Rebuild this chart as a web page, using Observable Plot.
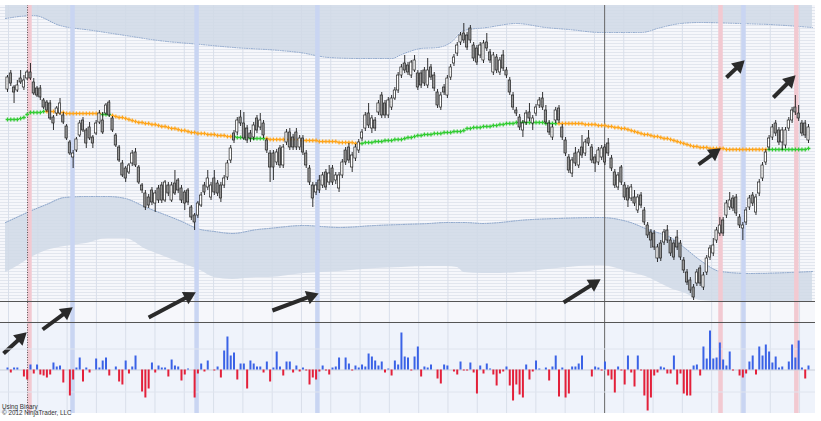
<!DOCTYPE html>
<html><head><meta charset="utf-8">
<script src="https://cdn.jsdelivr.net/npm/d3@7"></script>
<script src="https://cdn.jsdelivr.net/npm/@observablehq/plot@0.6"></script>
<style>
html,body{margin:0;padding:0;background:#fff;}
#wrap{position:relative;width:821px;height:421px;overflow:hidden;font-family:"Liberation Sans",Arial,sans-serif;}
#wrap svg{position:absolute;left:0;}
.note{position:absolute;left:2px;font-size:6.3px;color:#333;line-height:6px;white-space:nowrap;}
</style></head><body><div id="wrap"></div>
<script>
// ---- candle data (bar index 0..244) ----
const opens = [211,227,213,210,222,213,222,228,218,212,212,200,198,197,183,187,187,185,174,158,143,150,165,180,170,173,163,167,178,180,187,198,182,165,153,137,132,128,137,148,
133,115,107,103,110,97,112,115,100,115,100,117,120,112,108,110,93,85,85,95,115,113,103,122,117,115,115,123,140,167,168,183,177,172,167,163,182,173,177,160,147,
147,138,152,135,158,168,163,168,153,162,147,132,115,108,120,115,128,118,132,120,112,125,150,153,133,142,150,162,172,187,172,180,188,205,197,185,193,202,210,225,237,235,
225,230,227,227,230,215,233,225,208,193,213,205,223,237,247,258,267,265,272,255,252,245,240,258,248,228,243,228,245,230,220,205,190,183,170,178,188,177,187,195,202,190,
177,163,180,192,173,160,143,127,147,135,153,147,162,153,143,138,143,153,157,142,128,113,133,115,112,102,103,90,105,90,75,68,67,42,57,58,70,60,57,63,57,
40,28,20,13,17,32,13,28,43,47,60,67,80,85,93,102,103,83,72,78,93,105,88,107,122,138,153,163,177,170,158,155,172,180,193,187,177,177,160];
const closes = [223,217,208,215,218,220,228,222,207,205,203,193,190,182,177,192,197,178,162,147,147,161,177,170,157,162,157,177,187,168,195,185,170,155,140,125,122,135,147,135,
118,110,93,95,98,107,100,100,118,107,115,107,110,100,97,98,83,78,97,105,108,122,115,108,107,102,122,137,152,160,180,177,162,160,162,175,170,180,165,150,133,
133,148,135,153,168,153,153,153,162,148,135,118,102,115,110,125,113,127,118,125,125,138,138,140,145,153,158,168,185,175,182,172,197,185,185,200,202,210,225,233,230,228,
238,240,213,215,217,230,223,212,195,205,208,222,233,243,255,265,260,253,260,242,238,255,257,252,240,245,230,240,232,225,208,193,187,173,177,187,182,182,193,200,193,178,
168,173,190,180,163,147,130,140,137,148,145,158,157,140,137,150,152,138,147,132,115,125,118,103,100,113,97,103,95,78,65,60,53,53,42,68,60,47,43,53,43,
30,18,10,3,28,17,25,42,52,55,70,75,67,97,100,92,87,75,75,90,102,97,103,118,135,148,162,173,167,158,170,170,180,190,188,182,167,165,173];
const highs = [225,230,215,220,230,225,230,237,222,214,215,202,200,200,185,194,202,188,176,160,150,163,180,183,172,178,165,180,190,188,197,200,184,167,155,140,134,137,150,152,
135,117,110,106,113,110,115,118,120,118,118,130,122,115,110,112,95,87,99,108,118,130,118,130,120,118,125,140,155,170,183,190,188,175,170,178,185,187,180,162,150,
150,151,155,156,171,172,166,172,165,165,150,135,118,118,125,128,131,135,135,128,128,141,153,157,148,156,161,171,188,197,185,183,200,208,200,203,205,213,228,236,245,238,
240,245,230,230,233,242,236,228,211,208,216,225,236,246,258,268,277,268,275,258,255,258,260,267,251,248,246,243,250,233,223,208,193,186,180,190,197,185,196,203,208,195,
180,176,193,195,176,163,146,143,153,151,165,161,170,156,146,153,155,156,162,145,131,128,135,118,115,116,110,106,108,93,78,71,70,56,60,71,75,63,60,70,60,
43,31,23,16,31,35,28,45,55,62,73,83,83,100,108,105,106,86,78,93,105,108,106,121,138,151,165,176,180,173,173,173,183,193,205,195,180,180,176];
const lows = [208,214,197,208,216,210,220,220,205,203,200,191,188,180,170,184,185,176,160,145,132,148,163,168,152,160,152,165,176,166,185,183,168,153,138,123,118,126,134,133,
116,107,90,92,95,88,97,97,98,104,98,105,107,97,90,95,80,70,82,93,105,110,100,105,104,98,112,120,137,157,165,174,160,157,158,160,167,170,162,147,118,
120,135,132,132,155,150,150,150,150,145,132,115,93,105,107,112,110,115,115,116,108,122,135,137,128,139,147,159,169,172,167,169,185,182,182,182,190,200,207,222,227,225,
222,228,210,212,214,212,220,209,192,190,205,202,220,234,244,255,257,250,257,239,235,242,237,249,237,225,227,225,229,222,205,190,184,170,163,175,179,170,184,192,190,176,
165,160,177,177,160,144,127,123,134,132,142,144,154,137,128,135,140,135,144,129,112,110,115,100,93,99,94,87,92,75,62,52,50,38,39,55,57,44,40,50,40,
27,15,7,0,14,14,10,25,40,44,57,64,64,82,90,89,84,72,60,75,90,94,85,104,119,135,150,160,164,155,150,152,169,177,185,179,164,162,157];

// ---- moving average ----
const maValues = [181,181,181,181,182,183,186,188,188,188, 188,189,189,189,189,188,188,188,187,187,
187,187,187,187,187,187,187,187,187,186, 186,186,185,184,183,183,182,181,180,179,
178,178,177,177,176,176,175,174,174,173, 172,172,171,170,170,169,168,168,167,167,
167,166,166,166,165,165,165,164,164,164, 163,163,163,163,162,162,162,162,162,162,
161,161,161,161,161,161,161,161,161,160, 160,160,160,160,160,159,159,159,159,159,
159,158,158,158,158,158,157,157,157,158, 158,158,159,159,159,160,160,160,161,161,
161,162,163,163,164,165,165,166,166,166, 167,167,167,168,168,168,169,169,169,170,
172,172,173,173,173,174,174,174,175,175, 176,176,177,177,177,178,178,178,178,178,
178,178,178,178,177,177,177,177,177,177, 177,177,177,177,177,177,176,176,176,176,
175,175,175,174,174,173,173,172,172,171, 170,169,168,167,166,166,165,164,164,163,
162,162,161,160,159,158,157,156,155,154, 154,153,153,153,152,152,152,152,152,151,
151,151,151,151,151,151,151,151,151,151, 151,151,151,151,151,151,151,151,151,151,
151,151,151,151,152];
const maRisingSpans = [[0,11],[29,31],[69,78],[108,167],[232,244]];

// ---- lower-panel histogram ----
const histValues = [2,-3,2,2,0,-7,-10,5,-4,5, -5,-6,-8,-5,7,3,4,-13,0,-26,
-10,2,12,-12,2,-3,0,11,2,9, 12,-6,0,3,-12,-15,9,-4,3,14,
0,-22,-28,-19,7,-3,4,2,2,-7, 10,4,3,-11,-5,1,0,-28,-4,6,
-2,9,0,-1,3,-8,19,33,14,17, -10,6,6,-19,9,6,3,3,-3,8,
-12,2,18,3,-6,8,8,-3,4,-2, 2,-1,-15,-8,-10,-2,4,-1,-5,2,
3,12,0,12,6,-1,4,2,5,3, 16,13,9,4,8,-3,1,-6,9,5,
37,13,12,-1,13,23,-7,3,2,5, 0,-9,-14,5,4,0,-2,-5,8,-1,
-1,7,-3,-24,4,-4,6,1,-5,-16, -4,-2,3,-16,-31,-15,-25,-28,5,-10,
-2,9,1,0,2,-11,3,14,-27,2, -28,-24,3,3,6,14,0,0,-7,3,
2,-1,8,-6,-10,-23,3,-1,-15,14, -3,-17,14,-1,-26,-41,-28,-6,-3,3,
2,-4,-4,14,-15,-4,-24,-26,-26,4, 5,-6,23,11,39,11,12,27,10,4,
18,-1,0,-6,-8,-4,8,14,-5,23, 14,25,18,7,13,2,3,0,8,25,
12,29,2,-9,4];
const histGrid = [21, -22];

// ---- envelope bands ----
const upperBandIdx = [-0.6,8,16,26,36,46,59,69,83,89,98,108,117,120,126,131,135,139,146,155,164,171,181,193,199,205,211,223,232,245.2];
const upperBandLow = [282,285,275,270,265,260,256,253,250,248,243,242,242,246,252,253,258,270,273,277,273,271,268,268,273,277,278,277,276,273];
const lowerBandIdx = [-0.6,3.4,6.7,11.9,17.4,24,30.5,35.9,42.3,47,52.4,58.8,63,68.5,76.2,79.5,90.5,95.6,101.1,112.1,120,128.5,133.7,137,139.2,144.7,150.2,155.7,167.5,180.6,189.8,195.9,198.9,202,206.5,211.1,217.2,226.3,238.5,245.2];
const lowerBandTop = [78,84,89,96,103,104,104,102,93,87,80,71,69,67,71,72,75,74,73,75,76,77,78,78,78,77,78,80,82,83,78,70,67,63,52,40,29,27,28,29];
const lowerBandBottom = [28,35,42,50,54,57,62,62,51,45,38,30,23,21,23,23,27,28,29,32,33,34,34,33,28,27,27,28,32,35,28,22,17,12,7,0,-1,-1,-1,-1];

// ---- annotations ----
const highlightIdx = [6.7, 19.8, 57.6, 94.4, 217.2, 224.2, 240.3];
const highlightKind = ["pink","blue","blue","blue","pink","blue","pink"];
const dottedMarkerIdx = [6.1];
const solidMarkerIdx = [181.9];
const arrowTail = [[-1.2,-53],[10.7,-29],[43,-17],[80.7,-10],[169.4,-2],[210.5,136],[219,223],[233.3,203]];
const arrowTip  = [[5.8,-32],[19.8,-7],[57.3,8],[94.7,7],[180.6,21],[217.2,152],[224.5,240],[240,225]];
const footerLines = ["Using Binary", "\u00A9 2012 NinjaTrader, LLC"];

// ---- layout ----
const W = 821, H = 421;
const PX = 801 / 244;                // pixels per bar
const XD = [-7 / PX, (W - 7) / PX];  // x domain matching full width
const YD = [-121, 300];              // price domain over full height
const paneLeft = XD[0], paneRight = (815 - 7) / PX;
const priceTop = 295, priceBottom = -1, gapBottom = -22, oscBottom = -113;

const candles = opens.map((o, i) => ({i, o, c: closes[i], h: highs[i], l: lows[i]}));
const isRising = i => maRisingSpans.some(([a, b]) => i >= a && i <= b);
const ma = maValues.map((v, i) => ({i, v, col: isRising(i) ? "#33cc33" : "#ffa51a"}));
const hist = histValues.map((v, i) => ({i, v}));
const upper = upperBandIdx.map((i, k) => ({i, lo: upperBandLow[k]}));
const lower = lowerBandIdx.map((i, k) => ({i, top: lowerBandTop[k], bot: lowerBandBottom[k]}));
const hl = highlightIdx.map((i, k) => ({i, col: highlightKind[k] === "pink" ? "#f2c9d1" : "#c9d5f2"}));

const kx = W / (XD[1] - XD[0]), ky = H / (YD[1] - YD[0]);
const HEAD = 7.8;
const arrows = arrowTail.map((t, k) => {
  const p = arrowTip[k];
  const dx = (p[0] - t[0]) * kx, dy = -(p[1] - t[1]) * ky;
  const len = Math.hypot(dx, dy), ux = dx / len, uy = dy / len;
  return {x1: t[0], y1: t[1], x2: p[0], y2: p[1],
    cx: p[0] - ux * HEAD / kx, cy: p[1] + uy * HEAD / ky,
    rot: Math.atan2(ux, -uy) * 180 / Math.PI};
});

const gridIdx = d3.range(0.3, 246, 8.925);
const denseLines = d3.range(priceBottom, priceTop, 3);

const main = Plot.plot({
  width: W, height: H, margin: 0,
  x: {domain: XD, range: [0, W], axis: null},
  y: {domain: YD, range: [H, 0], axis: null},
  color: {type: "identity"},
  style: {background: "transparent"},
  marks: [
    Plot.rect([{x1: paneLeft, x2: paneRight, y1: gapBottom, y2: priceTop}], {x1: "x1", x2: "x2", y1: "y1", y2: "y2", fill: "#f6f7fb"}),
    Plot.rect([{x1: paneLeft, x2: paneRight, y1: oscBottom, y2: gapBottom}], {x1: "x1", x2: "x2", y1: "y1", y2: "y2", fill: "#eff3fb"}),
    Plot.ruleY(denseLines, {x1: paneLeft, x2: paneRight, stroke: "#e2e6ee", strokeWidth: 1}),
    Plot.ruleX(gridIdx, {y1: oscBottom, y2: priceTop, stroke: "#d9dfea", strokeWidth: 1}),
    Plot.areaY(upper, {x: "i", y1: "lo", y2: priceTop, fill: "#d0d9e6", fillOpacity: 0.85, curve: "monotone-x"}),
    Plot.line(upper, {x: "i", y: "lo", stroke: "#8aa4ca", strokeWidth: 1, strokeDasharray: "1,1.4", curve: "monotone-x"}),
    Plot.areaY(lower, {x: "i", y1: "bot", y2: "top", fill: "#d0d9e6", fillOpacity: 0.85, curve: "monotone-x"}),
    Plot.line(lower, {x: "i", y: "top", stroke: "#8aa4ca", strokeWidth: 1, strokeDasharray: "1,1.4", curve: "monotone-x"}),
    Plot.ruleX(hl, {x: "i", y1: oscBottom, y2: priceTop, stroke: "col", strokeWidth: 4.5}),
    Plot.ruleX(dottedMarkerIdx, {y1: oscBottom, y2: priceTop, stroke: "#333", strokeWidth: 0.8, strokeDasharray: "1,1.5"}),
    Plot.ruleX(solidMarkerIdx, {y1: oscBottom, y2: priceTop, stroke: "#666", strokeWidth: 1}),
    Plot.ruleY([priceBottom, gapBottom], {x1: paneLeft, x2: paneRight, stroke: "#555", strokeWidth: 1.2}),
    Plot.dot(ma, {x: "i", y: "v", symbol: "cross", r: 1.6, fill: "col", stroke: null}),
    Plot.ruleX(candles, {x: "i", y1: "l", y2: "h", stroke: "#1a1a1a", strokeWidth: 0.9}),
    Plot.rect(candles, {x1: d => d.i - 0.34, x2: d => d.i + 0.34, y1: "o", y2: "c",
      fill: d => d.c >= d.o ? "#ffffff" : "#979797", stroke: "#222", strokeWidth: 0.7}),
    Plot.link(arrows, {x1: "x1", y1: "y1", x2: "cx", y2: "cy", stroke: "#2a2a2a", strokeWidth: 4}),
    Plot.dot(arrows, {x: "cx", y: "cy", symbol: "triangle", r: 5.2, fill: "#2a2a2a", stroke: null, rotate: "rot"})
  ]
});

const osc = Plot.plot({
  width: W, height: 91, margin: 0,
  x: {domain: XD, range: [0, W], axis: null},
  y: {domain: [-43.5, 47.5], range: [91, 0], axis: null},
  color: {type: "identity"},
  style: {background: "transparent"},
  marks: [
    Plot.ruleY(histGrid, {x1: paneLeft, x2: paneRight, stroke: "#dfe4ee"}),
    Plot.ruleY([0], {x1: paneLeft, x2: paneRight, stroke: "#c9ced9"}),
    Plot.ruleX(hist.filter(d => d.v !== 0), {x: "i", y1: 0, y2: "v",
      stroke: d => d.v > 0 ? "#3a62e6" : "#e3203a", strokeWidth: 2})
  ]
});

const wrap = document.getElementById("wrap");
main.style.top = "0px";
osc.style.top = "322px";
wrap.appendChild(main);
wrap.appendChild(osc);
footerLines.forEach((t, k) => {
  const d = document.createElement("div");
  d.className = "note";
  d.textContent = t;
  d.style.top = (404 + k * 5.5) + "px";
  wrap.appendChild(d);
});
</script></body></html>
